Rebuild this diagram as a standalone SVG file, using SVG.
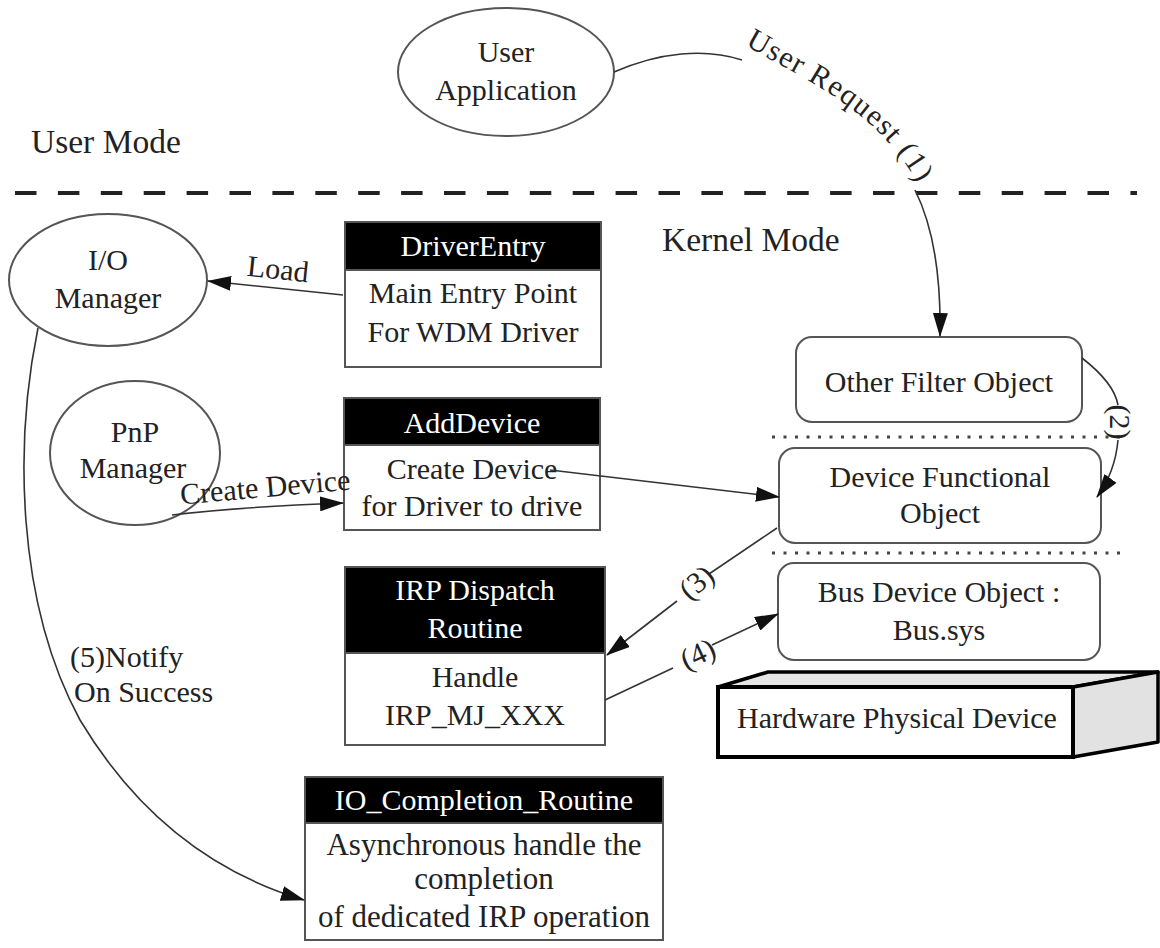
<svg xmlns="http://www.w3.org/2000/svg" width="1160" height="948" viewBox="0 0 1160 948">
<defs>
<marker id="ah" viewBox="0 0 24 15" refX="23" refY="7.5" markerWidth="24" markerHeight="15" markerUnits="userSpaceOnUse" orient="auto"><path d="M0,0 L24,7.5 L0,15 z" fill="#111"/></marker>
<path id="reqPath" d="M 745,45 C 808,82 885,112 925,198"/>
</defs>
<style>
text{font-family:"Liberation Serif","Times New Roman",serif;font-size:30px;fill:#222}
.c{text-anchor:middle}
.w{fill:#fff}
.big{font-size:33.5px}
.node{fill:#fff;stroke:#555;stroke-width:2}
.hdr{fill:#000;stroke:#555;stroke-width:2}
.edge{fill:none;stroke:#333;stroke-width:1.6}
.arr{marker-end:url(#ah)}
.sep{stroke:#222;stroke-width:4;stroke-dasharray:21.5 21.4}
.dot{stroke:#444;stroke-width:3;stroke-dasharray:3 8.5}
</style>
<rect width="1160" height="948" fill="#fff"/>

<g id="mode-separators">
<line class="sep" x1="15" y1="193" x2="1137" y2="193"/>
<text class="big" x="31" y="153">User Mode</text>
<text class="big" x="662" y="251">Kernel Mode</text>
<line class="dot" x1="772" y1="437" x2="1122" y2="437"/>
<line class="dot" x1="772" y1="553" x2="1122" y2="553"/>
</g>

<g id="user-application">
<ellipse class="node" cx="506" cy="72" rx="108" ry="64"/>
<text class="c" x="506" y="62">User</text>
<text class="c" x="506" y="100">Application</text>
</g>

<g id="io-manager">
<ellipse class="node" cx="108" cy="280" rx="99" ry="66"/>
<text class="c" x="108" y="270">I/O</text>
<text class="c" x="108" y="308">Manager</text>
</g>

<g id="pnp-manager">
<ellipse class="node" cx="135" cy="453" rx="85" ry="72"/>
<text class="c" x="135" y="442">PnP</text>
<text class="c" x="133" y="478">Manager</text>
</g>

<g id="driver-entry">
<rect class="node" x="345" y="222" width="256" height="145"/>
<rect class="hdr" x="345" y="222" width="256" height="48"/>
<text class="c w" x="473" y="256">DriverEntry</text>
<text class="c" x="473" y="303">Main Entry Point</text>
<text class="c" x="473" y="342">For WDM Driver</text>
</g>

<g id="add-device">
<rect class="node" x="344" y="398" width="256" height="132"/>
<rect class="hdr" x="344" y="398" width="256" height="47"/>
<text class="c w" x="472" y="433">AddDevice</text>
<text class="c" x="472" y="479">Create Device</text>
<text class="c" x="472" y="516">for Driver to drive</text>
</g>

<g id="irp-dispatch">
<rect class="node" x="345" y="567" width="260" height="178"/>
<rect class="hdr" x="345" y="567" width="260" height="86"/>
<text class="c w" x="475" y="600">IRP Dispatch</text>
<text class="c w" x="475" y="638">Routine</text>
<text class="c" x="475" y="687">Handle</text>
<text class="c" x="475" y="725">IRP_MJ_XXX</text>
</g>

<g id="io-completion">
<rect class="node" x="305" y="777" width="358" height="163"/>
<rect class="hdr" x="305" y="777" width="358" height="46"/>
<text class="c w" x="484" y="810">IO_Completion_Routine</text>
<text class="c" x="484" y="855" style="font-size:31px">Asynchronous handle the</text>
<text class="c" x="484" y="889" style="font-size:31px">completion</text>
<text class="c" x="484" y="927" style="font-size:31px">of dedicated IRP operation</text>
</g>

<g id="other-filter-object">
<rect class="node" x="796" y="337" width="286" height="85" rx="16"/>
<text class="c" x="939" y="392">Other Filter Object</text>
</g>

<g id="device-functional-object">
<rect class="node" x="779" y="448" width="322" height="95" rx="16"/>
<text class="c" x="940" y="487">Device Functional</text>
<text class="c" x="940" y="523">Object</text>
</g>

<g id="bus-device-object">
<rect class="node" x="778" y="563" width="322" height="97" rx="16"/>
<text class="c" x="939" y="602">Bus Device Object :</text>
<text class="c" x="939" y="640">Bus.sys</text>
</g>

<g id="hardware-physical-device">
<polygon points="718,687 768,672 1158,672 1073,687" fill="#e6e6e6" stroke="#000" stroke-width="3.5" stroke-linejoin="round"/>
<polygon points="1073,687 1158,672 1158,742 1073,757" fill="#e2e2e2" stroke="#000" stroke-width="3.5" stroke-linejoin="round"/>
<rect x="718" y="687" width="355" height="70" fill="#fff" stroke="#000" stroke-width="4"/>
<text class="c" x="897" y="728">Hardware Physical Device</text>
</g>

<g id="connectors">
<path class="edge" d="M 614,72 C 660,52 705,48 742,60"/>
<text style="letter-spacing:1.4px"><textPath href="#reqPath" startOffset="0">User Request (1)</textPath></text>
<path class="edge arr" d="M 915,190 C 934,228 941,280 940,336"/>

<path class="edge arr" d="M 343,295 L 208,281"/>
<text transform="translate(277,279) rotate(6)" text-anchor="middle">Load</text>

<path class="edge arr" d="M 172,515 C 230,508 290,505 343,503"/>
<text transform="translate(266,497) rotate(-5)" text-anchor="middle">Create Device</text>

<path class="edge arr" d="M 550,470 L 779,497"/>

<path class="edge" d="M 1082,358 C 1100,372 1115,388 1118,405"/>
<text transform="translate(1110,422) rotate(90)" text-anchor="middle">(2)</text>
<path class="edge arr" d="M 1118,440 C 1116,462 1108,482 1097,497"/>

<path class="edge" d="M 777,528 L 709,574"/>
<text transform="translate(703,590) rotate(-40)" text-anchor="middle">(3)</text>
<path class="edge arr" d="M 677,601 L 607,655"/>

<path class="edge" d="M 605,700 L 673,668"/>
<text transform="translate(702,663) rotate(-25)" text-anchor="middle">(4)</text>
<path class="edge arr" d="M 712,645 L 778,614"/>

<path class="edge arr" d="M 38,328 C 15,440 15,600 80,720 C 140,820 220,875 304,900"/>
<text x="70" y="667">(5)Notify</text>
<text x="74" y="702">On Success</text>
</g>
</svg>
